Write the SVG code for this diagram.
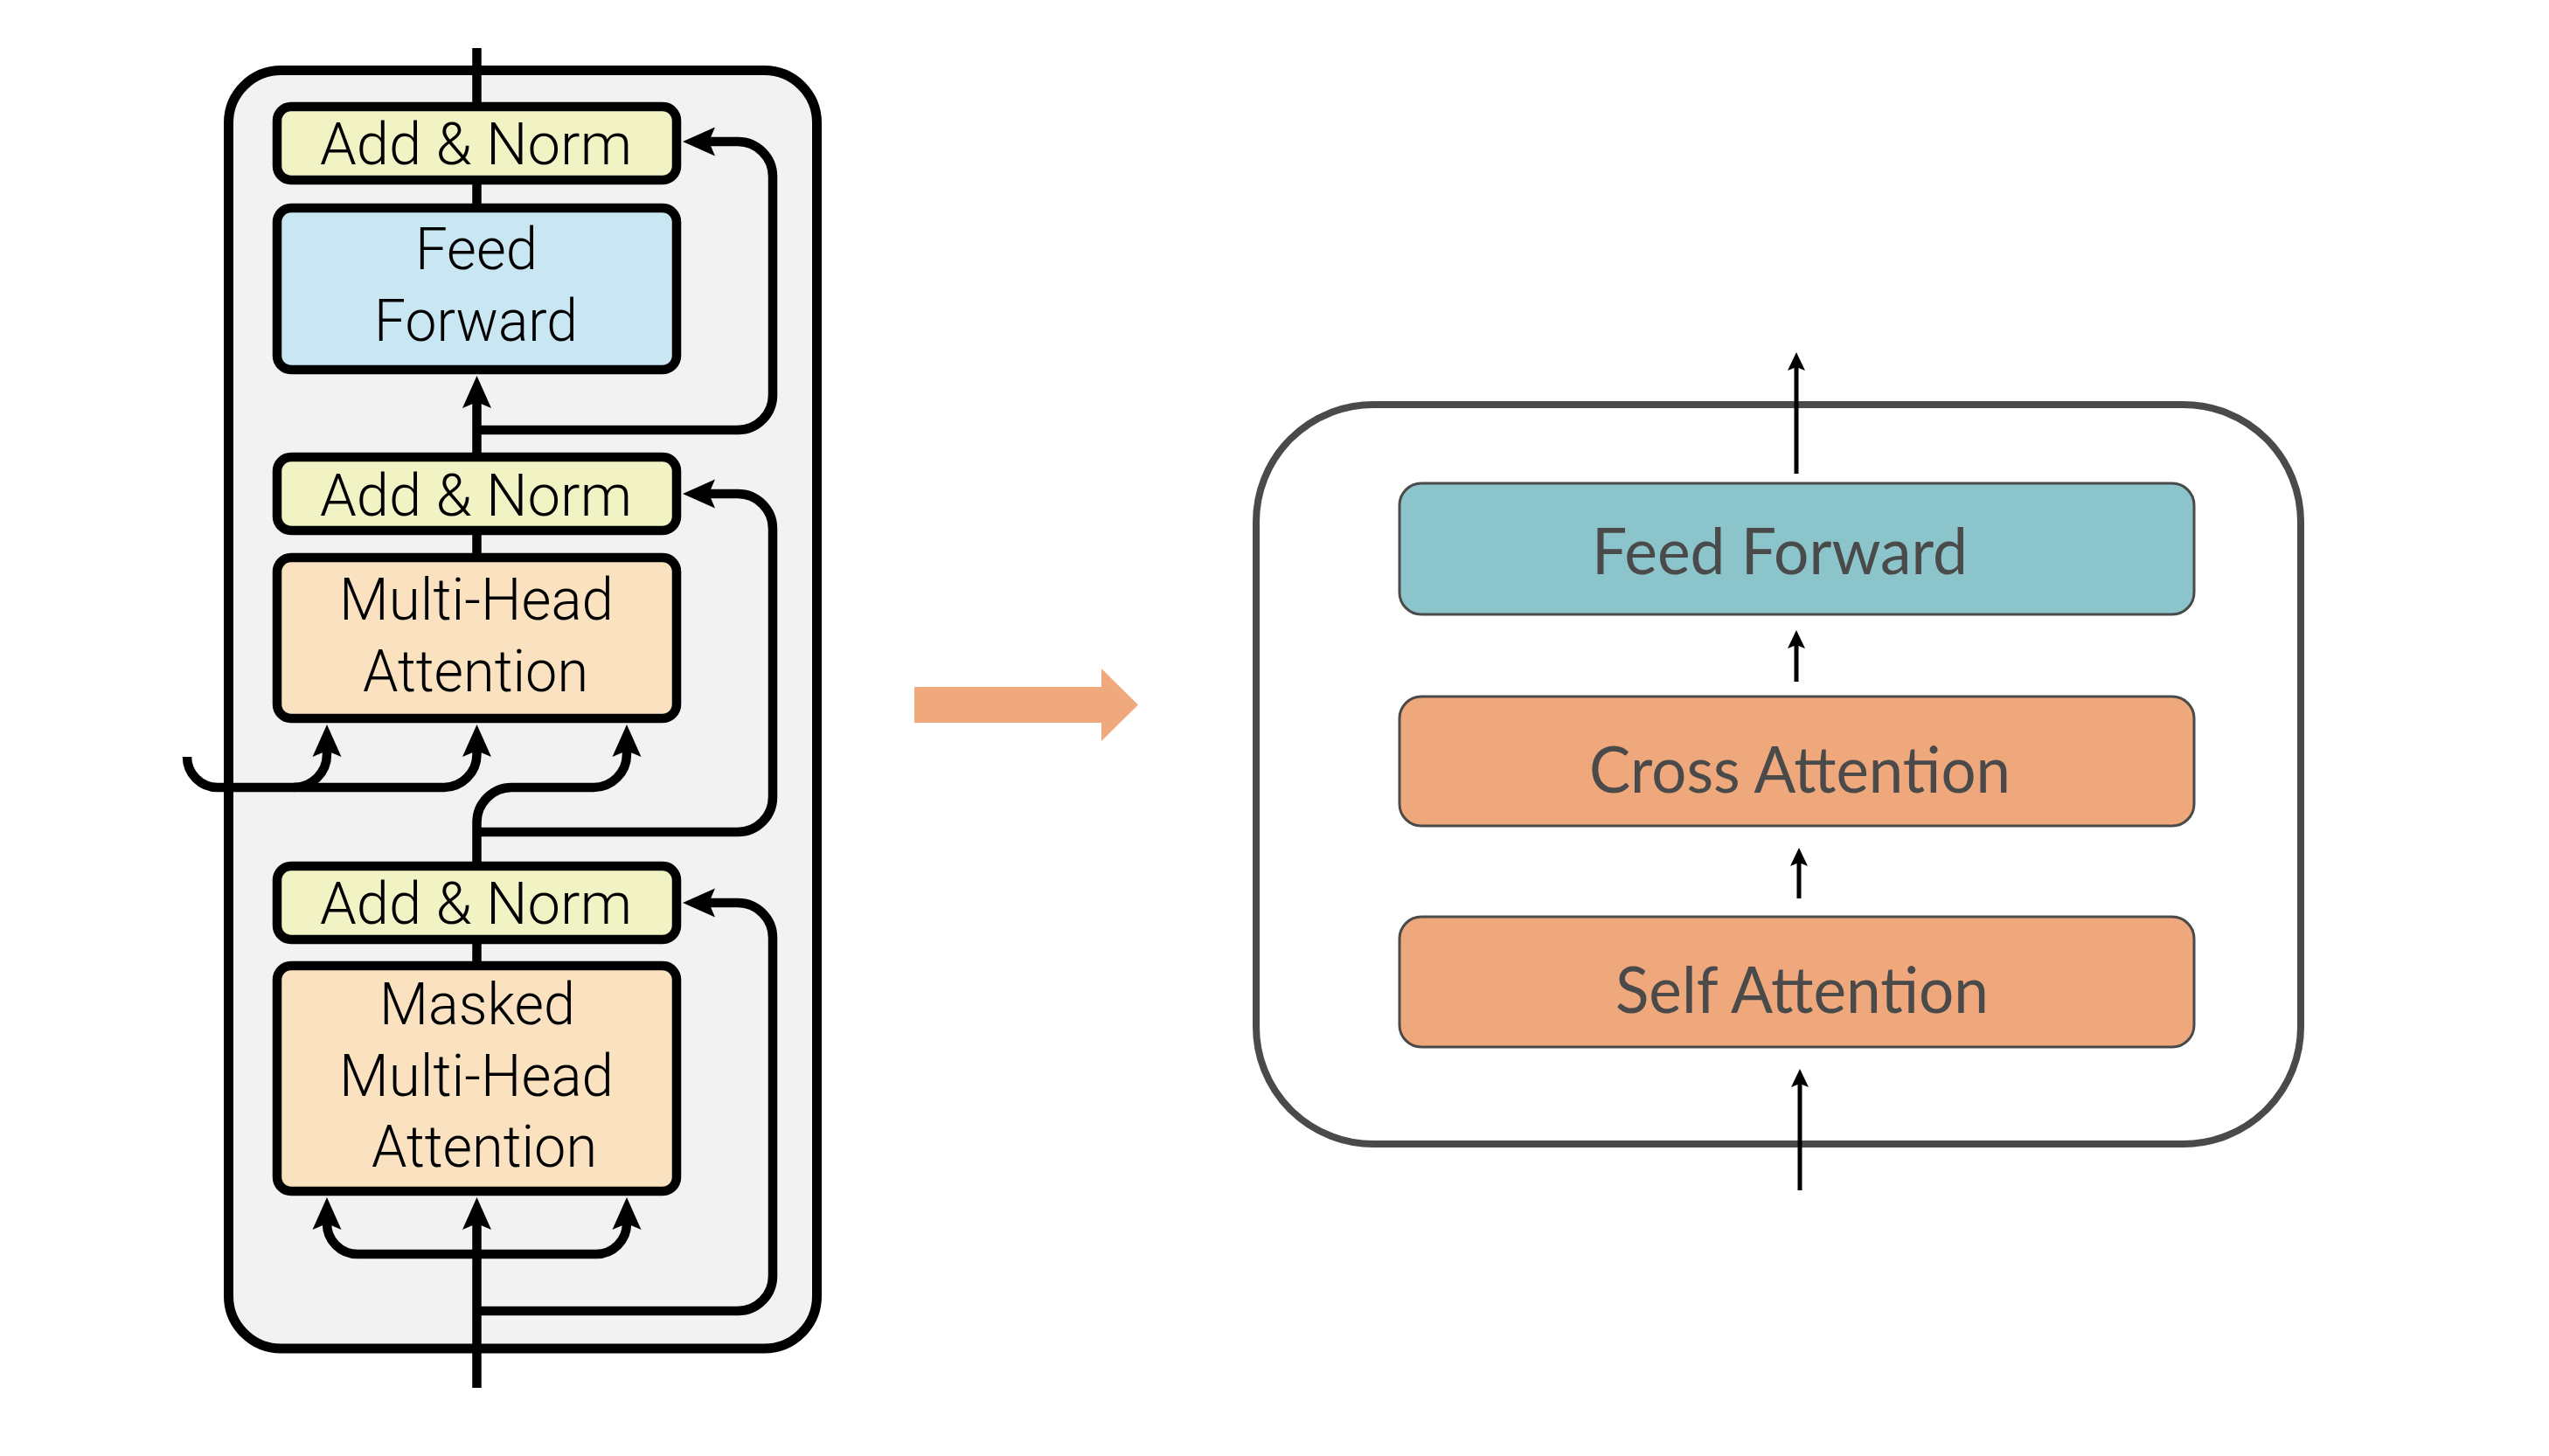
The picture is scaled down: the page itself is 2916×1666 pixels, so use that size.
<svg xmlns="http://www.w3.org/2000/svg" width="2916" height="1666" viewBox="0 0 2916 1666">
<defs>
<style>
.lbox{stroke:#000;stroke-width:10.5}
.an{fill:#F1F3C5}
.ff{fill:#C9E6F3}
.mha{fill:#FAE2C0}
.lt{font-family:Roboto,"Liberation Sans",Arial,sans-serif;font-weight:300;font-size:66px;fill:#000}
.lc{fill:none;stroke:#000;stroke-width:10.5}
.rbox{stroke:#4a4a4a;stroke-width:3}
.rt{font-family:Lato,"Open Sans",sans-serif;font-size:74px;fill:#4a4a4a}
.rc{fill:none;stroke:#000;stroke-width:5}
</style>
<marker id="ah" markerUnits="userSpaceOnUse" viewBox="-40 -20 45 40" refX="-30" refY="0" markerWidth="45" markerHeight="40" orient="auto">
<path d="M0 0 L-37 -16.5 L-30 0 L-37 16.5 Z" fill="#000"/>
</marker>
<marker id="sh" markerUnits="userSpaceOnUse" viewBox="-24 -12 28 24" refX="-17" refY="0" markerWidth="28" markerHeight="24" orient="auto">
<path d="M0 0 L-21 -10 L-17 0 L-21 10 Z" fill="#000"/>
</marker>
</defs>
<rect width="2916" height="1666" fill="#fff"/>

<g id="decoder-container">
<rect x="261.5" y="80.5" width="673" height="1462.5" rx="60" fill="#F2F2F2" stroke="#000" stroke-width="11"/>
</g>

<g id="add-norm-1">
<rect class="lbox an" x="317" y="122" width="457" height="84" rx="16"/>
<text class="lt" x="366" y="188" textLength="357" lengthAdjust="spacingAndGlyphs">Add &amp; Norm</text>
</g>
<g id="feed-forward-left">
<rect class="lbox ff" x="317" y="238" width="457" height="185" rx="16"/>
<text class="lt" x="475" y="308" textLength="140" lengthAdjust="spacingAndGlyphs">Feed</text>
<text class="lt" x="428" y="390" textLength="233" lengthAdjust="spacingAndGlyphs">Forward</text>
</g>
<g id="add-norm-2">
<rect class="lbox an" x="317" y="523" width="457" height="84" rx="16"/>
<text class="lt" x="366" y="590" textLength="357" lengthAdjust="spacingAndGlyphs">Add &amp; Norm</text>
</g>
<g id="multi-head-attention">
<rect class="lbox mha" x="317" y="638" width="457" height="184" rx="16"/>
<text class="lt" x="388" y="709" textLength="314" lengthAdjust="spacingAndGlyphs">Multi-Head</text>
<text class="lt" x="415" y="791" textLength="258" lengthAdjust="spacingAndGlyphs">Attention</text>
</g>
<g id="add-norm-3">
<rect class="lbox an" x="317" y="991" width="457" height="84" rx="16"/>
<text class="lt" x="366" y="1057" textLength="357" lengthAdjust="spacingAndGlyphs">Add &amp; Norm</text>
</g>
<g id="masked-multi-head-attention">
<rect class="lbox mha" x="317" y="1105" width="457" height="258" rx="16"/>
<text class="lt" x="434" y="1172" textLength="224" lengthAdjust="spacingAndGlyphs">Masked</text>
<text class="lt" x="388" y="1254" textLength="314" lengthAdjust="spacingAndGlyphs">Multi-Head</text>
<text class="lt" x="425" y="1335" textLength="258" lengthAdjust="spacingAndGlyphs">Attention</text>
</g>

<g id="orange-arrow">
<polygon points="1046,786 1260,786 1260,765 1302,806.5 1260,848 1260,827 1046,827" fill="#EFA97C"/>
</g>

<g id="block-container">
<rect x="1437" y="463" width="1195" height="846" rx="134" fill="#fff" stroke="#4a4a4a" stroke-width="8"/>
</g>
<g id="feed-forward-right">
<rect class="rbox" x="1601" y="553" width="909" height="150" rx="25" fill="#8CC4CB"/>
<text class="rt" x="1821" y="657" textLength="430" lengthAdjust="spacingAndGlyphs">Feed Forward</text>
</g>
<g id="cross-attention">
<rect class="rbox" x="1601" y="797" width="909" height="148" rx="25" fill="#EEA87C"/>
<text class="rt" x="1818" y="907" textLength="482" lengthAdjust="spacingAndGlyphs">Cross Attention</text>
</g>
<g id="self-attention">
<rect class="rbox" x="1601" y="1049" width="909" height="149" rx="25" fill="#EEA87C"/>
<text class="rt" x="1848" y="1159" textLength="427" lengthAdjust="spacingAndGlyphs">Self Attention</text>
</g>

<g id="connectors">
<path class="lc" d="M545.5 55 V122"/>
<path class="lc" d="M545.5 206 V238"/>
<path class="lc" d="M545.5 523 V460" marker-end="url(#ah)"/>
<path class="lc" d="M545.5 492 H844 A40 40 0 0 0 884 452 V202 A40 40 0 0 0 844 162 H811" marker-end="url(#ah)"/>
<path class="lc" d="M545.5 607 V638"/>
<path class="lc" d="M214 866 A35 35 0 0 0 249 901 H507 A38 38 0 0 0 545.5 863 V859" marker-end="url(#ah)"/>
<path class="lc" d="M336 901 A38 38 0 0 0 374 863 V859" marker-end="url(#ah)"/>
<path class="lc" d="M545.5 991 V941 A40 40 0 0 1 585.5 901 H679 A38 38 0 0 0 717 863 V859" marker-end="url(#ah)"/>
<path class="lc" d="M545.5 952 H844 A40 40 0 0 0 884 912 V605 A40 40 0 0 0 844 565 H811" marker-end="url(#ah)"/>
<path class="lc" d="M545.5 1075 V1105"/>
<path class="lc" d="M545.5 1588 V1400" marker-end="url(#ah)"/>
<path class="lc" d="M545.5 1435 H409 A35 35 0 0 1 374 1400" marker-end="url(#ah)"/>
<path class="lc" d="M545.5 1435 H682 A35 35 0 0 0 717 1400" marker-end="url(#ah)"/>
<path class="lc" d="M545.5 1500 H844 A40 40 0 0 0 884 1460 V1073 A40 40 0 0 0 844 1033 H811" marker-end="url(#ah)"/>
<path class="rc" d="M2055 542 V420" marker-end="url(#sh)"/>
<path class="rc" d="M2055 780 V738" marker-end="url(#sh)"/>
<path class="rc" d="M2058 1028 V987" marker-end="url(#sh)"/>
<path class="rc" d="M2059 1362 V1240" marker-end="url(#sh)"/>
</g>
</svg>
